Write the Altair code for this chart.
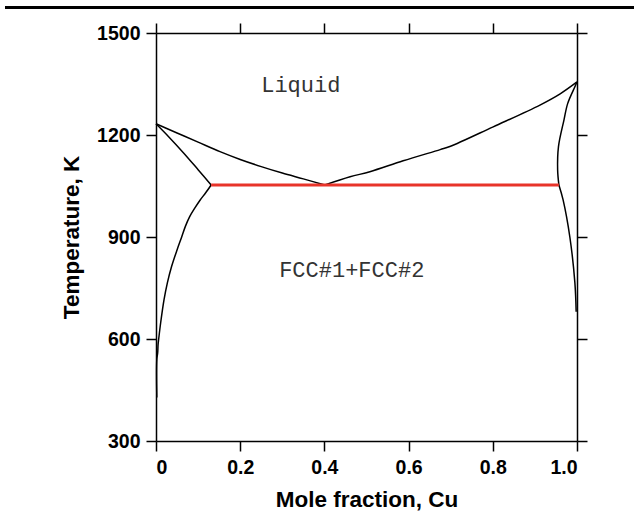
import altair as alt
import pandas as pd

# ---- data (x = mole fraction Cu, T in K) ----
liq_left_x = [0.0, 0.05, 0.10, 0.152, 0.20, 0.25, 0.30, 0.35, 0.401]
liq_left_T = [1233, 1206, 1179, 1151, 1128, 1107, 1088, 1071, 1053]

sol_left_x = [0.0, 0.03, 0.065, 0.10, 0.131]
sol_left_T = [1233, 1195, 1148, 1098, 1053]

solv_left_x = [0.131, 0.118, 0.105, 0.092, 0.08, 0.07, 0.061, 0.05, 0.037, 0.027,
               0.019, 0.011, 0.0064, 0.005, 0.004, 0.002, 0.002]
solv_left_T = [1053, 1030, 1009, 985, 960, 932, 900, 862, 813, 765,
               715, 647, 600, 585, 560, 540, 428]

liq_right_x = [0.401, 0.461, 0.508, 0.587, 0.675, 0.698, 0.801, 0.912, 0.96, 1.0]
liq_right_T = [1053, 1077, 1092, 1124, 1157, 1166, 1224, 1288, 1321, 1356]

sol_right_x = [1.0, 0.995, 0.978, 0.969, 0.956, 0.954, 0.957]
sol_right_T = [1356, 1342, 1293, 1244, 1166, 1097, 1053]

solv_right_x = [0.957, 0.967, 0.983, 0.995, 0.998]
solv_right_T = [1053, 1009, 900, 765, 680]

eut_x = [0.131, 0.957]
eut_T = [1053, 1053]

label_text = ["Liquid", "FCC#1+FCC#2"]
label_x = [0.344, 0.465]
label_T = [1347, 803]

x_ticks = [0, 0.2, 0.4, 0.6, 0.8, 1.0]
y_ticks = [300, 600, 900, 1200, 1500]

# ---- build tables ----
rows = []
for name, xs, ts in [
    ("liq_left", liq_left_x, liq_left_T),
    ("sol_left", sol_left_x, sol_left_T),
    ("solv_left", solv_left_x, solv_left_T),
    ("liq_right", liq_right_x, liq_right_T),
    ("sol_right", sol_right_x, sol_right_T),
    ("solv_right", solv_right_x, solv_right_T),
]:
    for i, (xv, tv) in enumerate(zip(xs, ts)):
        rows.append({"series": name, "i": i, "x": xv, "T": tv})
curves = pd.DataFrame(rows)
eut = pd.DataFrame({"x": eut_x, "T": eut_T})
labels = pd.DataFrame({"label": label_text, "x": label_x, "T": label_T})

xscale = alt.Scale(domain=[0, 1], nice=False, zero=False)
yscale = alt.Scale(domain=[300, 1500], nice=False, zero=False)

lines = alt.Chart(curves).mark_line(
    color="black", strokeWidth=1.5, interpolate="catmull-rom"
).encode(
    x=alt.X("x:Q", scale=xscale,
            axis=alt.Axis(orient="bottom", values=x_ticks,
                          labelExpr="datum.value == 0 ? '0' : format(datum.value, '.1f')",
                          title="Mole fraction, Cu", labelPadding=7,
                          titleY=65, titleBaseline="alphabetic")),
    y=alt.Y("T:Q", scale=yscale,
            axis=alt.Axis(orient="left", values=y_ticks, format="d",
                          title="Temperature, K",
                          labelPadding=6, titleX=-78, titleBaseline="alphabetic")),
    detail="series:N",
    order="i:Q",
)

red = alt.Chart(eut).mark_line(color="#e8342a", strokeWidth=3).encode(
    x=alt.X("x:Q", scale=xscale,
            axis=alt.Axis(orient="top", values=x_ticks, labels=False, title=None)),
    y=alt.Y("T:Q", scale=yscale,
            axis=alt.Axis(orient="right", values=y_ticks, labels=False, title=None)),
)

texts = alt.Chart(labels).mark_text(
    font="Courier New, Liberation Mono, monospace", fontSize=22, color="#333",
    align="center", baseline="middle",
).encode(
    x=alt.X("x:Q", scale=xscale, axis=None),
    y=alt.Y("T:Q", scale=yscale, axis=None),
    text="label:N",
)

topbar = alt.Chart(eut).mark_rule(color="black", strokeWidth=3).encode(
    x=alt.value(-151), x2=alt.value(478), y=alt.value(-25.5)
)

chart = alt.layer(lines, red, texts, topbar).resolve_axis(
    x="independent", y="independent"
).properties(
    width=421, height=408,
    padding={"left": 156, "top": 33, "right": 62, "bottom": 75},
    autosize=alt.AutoSizeParams(type="none"),
).configure_view(strokeWidth=0).configure_axis(
    grid=False,
    domainColor="black", domainWidth=1.5,
    tickColor="black", tickWidth=1.5, tickSize=10,
    labelFont="Liberation Sans", labelFontWeight="bold", labelFontSize=19.5, labelColor="black",
    titleFont="Liberation Sans", titleFontWeight="bold", titleFontSize=22.5, titleColor="black",
)

chart.save("out.html", embed_options={"renderer": "svg", "actions": False})
